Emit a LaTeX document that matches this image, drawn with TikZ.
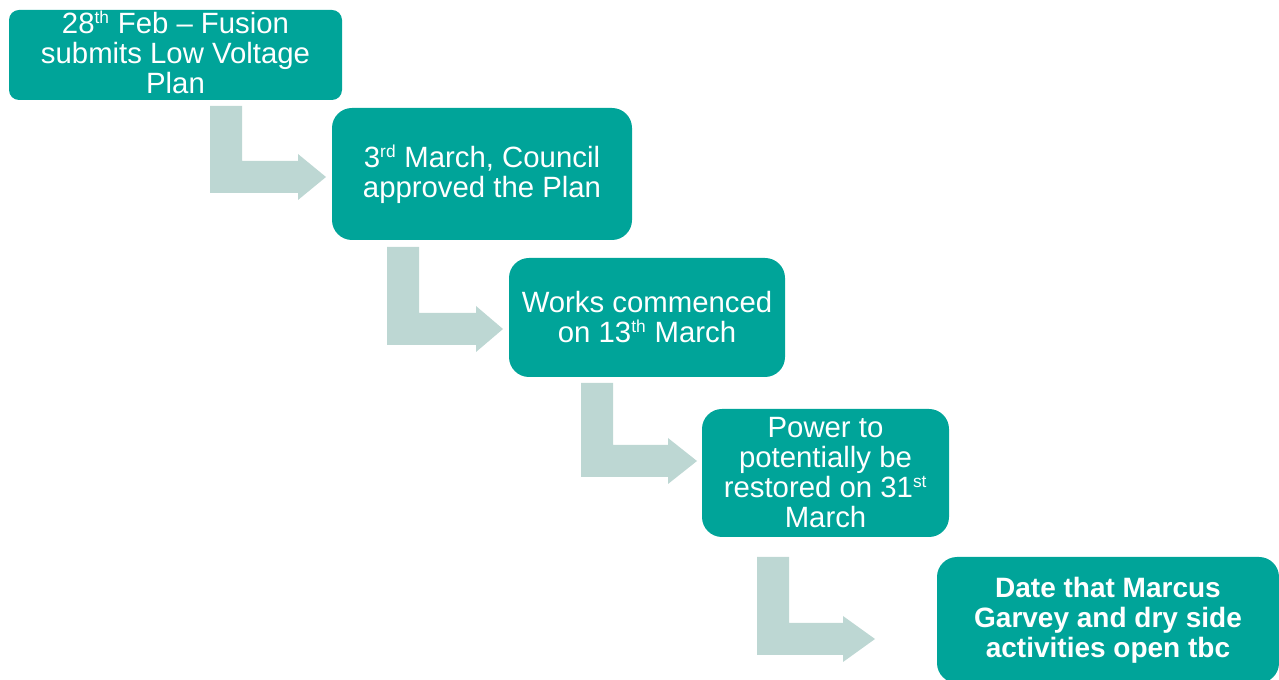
\documentclass[tikz,border=0pt]{standalone}
\usepackage{fontspec}
\setmainfont{Liberation Sans}
\definecolor{teal1}{RGB}{0,164,153}
\definecolor{arrowc}{RGB}{189,215,211}
\newcommand\myBentArrow[5]{%
  \fill[arrowc] (#1,#2) -- (#1,#3) -- (#4,#3) -- (#4,#3+7) -- (#5,#3-16)
    -- (#4,#3-39) -- (#4,#3-32) -- (#1+32,#3-32) -- (#1+32,#2) -- cycle;}
\newcommand\sups[1]{\textsuperscript{\fontsize{13}{13}\selectfont #1}}
\begin{document}
\begin{tikzpicture}[x=0.75pt,y=-0.75pt,
  stepbox/.style={fill=teal1, rounded corners=15pt, text=white, align=center,
    inner sep=0pt, font=\fontsize{22}{22.5}\selectfont}]
\useasboundingbox (0,0) rectangle (1279,680);
% arrows
\myBentArrow{210}{106}{193}{298}{326}
\myBentArrow{387}{247}{345}{476}{503}
\myBentArrow{581}{383}{477}{668}{697}
\myBentArrow{757}{557}{655}{843}{875}
% boxes
\node[stepbox, rounded corners=7.5pt, minimum width=249.75pt, minimum height=67.5pt] (b1) at (175.5,55)
  {};
\node[text=white, align=center, inner sep=0pt, font=\fontsize{22}{22.5}\selectfont] (t1) at (175.5,52)
  {28\sups{th} Feb -- Fusion\\submits Low Voltage\\Plan};
\node[stepbox, minimum width=225pt, minimum height=99pt] (b2) at (482,174)
  {3\sups{rd} March, Council\\approved the Plan};
\node[stepbox, minimum width=207pt, minimum height=89.25pt] (b3) at (647,317.5)
  {Works commenced\\on 13\sups{th} March};
\node[stepbox, minimum width=185.25pt, minimum height=96pt] (b4) at (825.5,473)
  {Power to\\potentially be\\restored on 31\sups{st}\\March};
\node[stepbox, minimum width=256.5pt, minimum height=94.5pt, font=\fontsize{21}{22.5}\selectfont\bfseries] (b5) at (1108,620)
  {Date that Marcus\\Garvey and dry side\\activities open tbc};
\end{tikzpicture}
\end{document}
